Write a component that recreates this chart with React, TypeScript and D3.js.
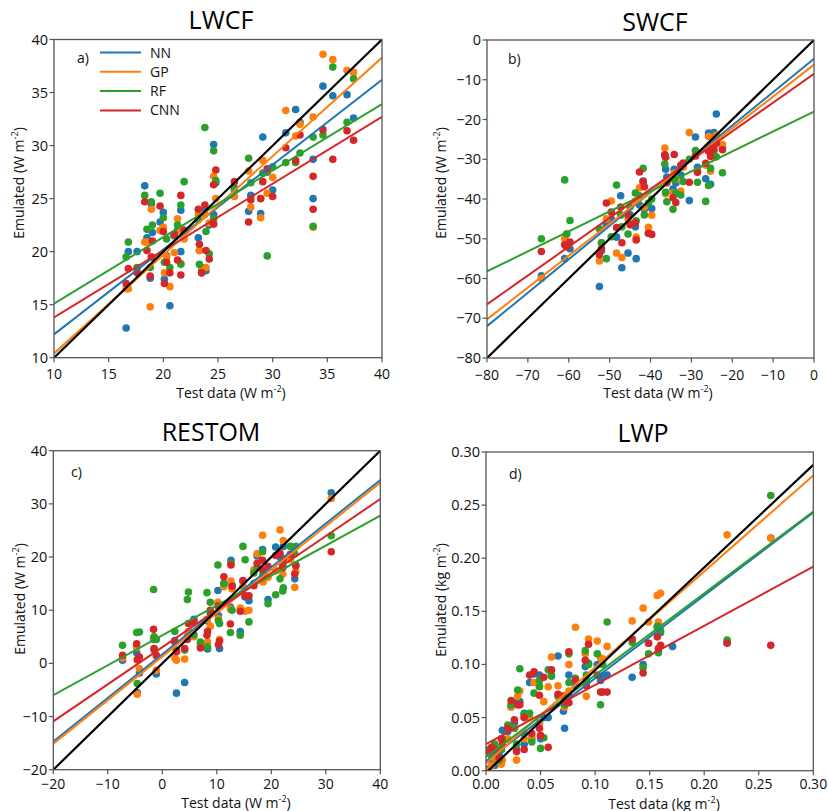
import React from "react";
import * as d3 from "d3";

// ---------- shared ----------
const modelNames = ["NN", "GP", "RF", "CNN"];
const modelColors = ["#1f77b4", "#ff7f0e", "#2ca02c", "#d62728"];

// ---------- a) LWCF ----------
const lwcfTest = [16.6, 16.8, 17.6, 18.3, 18.5, 18.8, 19.0, 18.9, 19.7, 20.0, 20.1, 20.3, 20.6, 21.0, 21.3, 21.6, 21.6, 21.9, 23.2, 23.3, 23.5, 23.8, 23.9, 24.2, 24.6, 24.8, 24.6, 26.5, 27.8, 28.0, 29.1, 28.9, 29.5, 30.0, 31.2, 32.1, 32.5, 33.7, 33.7, 34.6, 35.5, 36.8, 37.4];
const lwcfNN = [12.8, 20.0, 20.0, 26.2, 21.3, 17.5, 21.8, 24.5, 22.8, 23.7, 17.4, 19.6, 14.9, 21.5, 22.0, 23.9, 20.0, 22.0, 21.3, 20.1, 18.5, 24.0, 18.2, 22.5, 30.1, 26.5, 23.5, 26.0, 23.8, 25.3, 30.8, 23.6, 27.5, 25.8, 31.2, 33.4, 32.2, 28.7, 25.0, 35.6, 34.7, 34.8, 32.6];
const lwcfGP = [16.5, 16.5, 18.2, 20.9, 20.9, 14.8, 19.5, 24.0, 22.0, 22.3, 18.0, 19.5, 16.7, 19.9, 23.1, 22.0, 18.9, 21.2, 23.5, 20.1, 18.3, 23.5, 18.5, 22.7, 27.1, 25.0, 22.6, 25.2, 27.6, 24.2, 28.6, 23.2, 25.5, 27.0, 33.3, 30.9, 32.0, 32.7, 22.3, 38.6, 38.1, 37.1, 36.9];
const lwcfRF = [19.5, 20.9, 18.5, 25.3, 22.1, 18.5, 22.5, 24.7, 25.5, 23.2, 19.0, 21.2, 18.5, 21.5, 22.5, 24.4, 18.8, 26.6, 23.0, 18.8, 18.0, 31.7, 21.9, 19.8, 29.5, 26.7, 23.1, 25.8, 28.8, 26.5, 27.4, 25.0, 19.6, 28.0, 28.4, 28.4, 29.3, 30.8, 22.4, 31.0, 37.4, 32.2, 36.3];
const lwcfCNN = [17.0, 18.4, 18.0, 24.7, 20.1, 17.7, 21.0, 19.5, 24.3, 21.9, 17.0, 19.0, 18.0, 21.6, 19.2, 25.3, 17.8, 22.0, 24.0, 20.7, 18.0, 24.4, 20.1, 19.3, 26.3, 27.7, 22.6, 26.6, 22.8, 24.9, 26.6, 25.0, 27.8, 25.2, 29.8, 28.6, 31.0, 27.1, 24.0, 31.5, 28.7, 31.4, 30.5];
const lwcfSlopes = [0.8, 0.93, 0.627, 0.63];
const lwcfIntercepts = [4.2, 1.1, 8.83, 7.5];
const lwcfIdentity = [1, 0];
const lwcfTicks = [10, 15, 20, 25, 30, 35, 40];

// ---------- b) SWCF ----------
const swcfTest = [-66.7, -61.0, -60.5, -59.7, -52.5, -52.0, -50.8, -49.6, -48.3, -47.3, -47.0, -45.5, -45.0, -43.5, -43.7, -42.7, -41.8, -41.5, -40.5, -39.7, -36.5, -36.3, -36.0, -34.5, -34.2, -33.8, -32.6, -32.0, -30.5, -29.0, -28.5, -26.5, -25.8, -25.3, -23.9, -24.5, -22.4];
const swcfNN = [-59.3, -55.0, -51.5, -52.5, -62.0, -53.0, -46.5, -45.0, -49.6, -39.2, -57.3, -53.6, -44.0, -55.0, -47.0, -41.5, -35.5, -42.5, -48.6, -42.4, -29.0, -32.5, -34.5, -37.5, -32.5, -36.0, -34.0, -31.0, -40.4, -24.4, -32.0, -34.9, -23.4, -36.3, -18.6, -23.3, -27.0];
const swcfGP = [-60.0, -50.0, -48.8, -51.0, -55.6, -51.0, -45.0, -40.5, -53.6, -44.0, -54.7, -45.0, -46.0, -49.6, -40.5, -37.2, -36.5, -42.0, -47.1, -44.1, -27.2, -38.7, -36.0, -38.5, -33.5, -35.0, -38.0, -32.0, -23.3, -29.0, -33.0, -31.5, -24.3, -33.0, -24.0, -25.0, -26.3];
const swcfRF = [-50.0, -35.2, -48.8, -45.4, -47.5, -51.0, -55.0, -49.5, -36.5, -44.0, -47.0, -48.8, -42.0, -45.5, -38.5, -39.2, -32.3, -44.0, -41.0, -40.0, -31.2, -38.3, -40.7, -42.6, -35.0, -38.5, -39.0, -35.6, -30.0, -27.8, -35.8, -40.6, -36.6, -32.3, -29.4, -28.0, -33.4];
const swcfCNN = [-53.2, -51.5, -52.0, -50.8, -54.0, -52.5, -41.0, -43.3, -47.2, -42.0, -51.0, -44.0, -46.5, -50.3, -46.0, -33.2, -35.6, -36.9, -48.6, -48.9, -28.9, -29.5, -35.8, -39.7, -28.8, -40.9, -31.5, -31.0, -35.8, -29.2, -33.3, -31.0, -28.0, -29.3, -26.0, -27.5, -27.6];
const swcfSlopes = [0.841, 0.801, 0.5025, 0.725];
const swcfIntercepts = [-4.7, -6.2, -18.0, -8.5];
const swcfIdentity = [1, 0];
const swcfTicks = [-80, -70, -60, -50, -40, -30, -20, -10, 0];

// ---------- c) RESTOM ----------
const restomTest = [-7.3, -4.7, -4.6, -4.2, -1.6, -1.5, -1.1, 2.3, 2.6, 4.1, 4.8, 4.6, 5.8, 7.0, 8.2, 8.3, 8.8, 10.2, 10.3, 10.5, 11.3, 12.5, 12.6, 12.8, 14.3, 14.8, 15.2, 15.9, 16.8, 17.4, 18.4, 18.5, 19.4, 20.8, 21.6, 22.2, 22.1, 23.5, 24.3, 24.5, 31.0];
const restomNN = [0.6, 2.0, -5.5, -1.8, 4.5, 2.5, -2.0, 4.3, -5.6, -3.6, 6.0, 5.0, 8.3, 3.5, 8.0, 2.7, 9.5, 13.7, 9.0, 2.8, 15.0, 10.6, 19.4, 14.7, 6.0, 15.5, 12.5, 11.8, 15.0, 20.2, 21.4, 17.0, 12.0, 21.9, 20.0, 22.0, 18.5, 19.8, 15.9, 18.5, 32.1];
const restomGP = [1.0, 3.0, -5.8, -1.0, 4.8, 2.8, -1.3, 1.0, 0.6, 0.8, 6.0, 5.0, 5.0, 3.2, 8.3, 4.0, 7.0, 11.5, 8.4, 4.5, 14.4, 10.2, 15.5, 14.0, 10.4, 14.5, 9.8, 10.0, 17.6, 20.6, 24.1, 15.3, 16.2, 17.4, 25.1, 23.1, 16.8, 19.5, 14.3, 17.3, 31.0];
const restomRF = [3.4, 5.8, -3.8, 5.9, 13.9, 5.0, 4.5, 6.0, 2.5, 2.5, 13.4, 12.0, 5.4, 4.0, 13.3, 3.1, 11.5, 18.5, 8.0, 7.5, 15.0, 5.8, 18.8, 10.0, 5.3, 22.0, 19.5, 7.8, 17.0, 18.0, 21.0, 16.5, 11.2, 12.9, 15.9, 14.2, 13.6, 22.0, 20.6, 22.0, 24.0];
const restomCNN = [1.5, 3.7, 0.7, 1.2, 6.4, 2.8, 1.5, 4.0, 2.2, 2.8, 7.5, 4.5, 7.8, 2.9, 5.3, 6.0, 10.0, 10.8, 3.5, 4.2, 16.3, 7.4, 18.5, 14.5, 9.8, 15.6, 12.7, 12.7, 14.6, 18.8, 19.4, 17.5, 18.2, 20.3, 20.7, 19.6, 18.0, 20.5, 16.8, 18.3, 21.0];
const restomSlopes = [0.82, 0.818, 0.563, 0.697];
const restomIntercepts = [1.7, 1.27, 5.27, 3.03];
const restomIdentity = [1, 0];
const restomTicks = [-20, -10, 0, 10, 20, 30, 40];

// ---------- d) LWP ----------
const lwpTest = [0.261, 0.221, 0.171, 0.160, 0.157, 0.158, 0.149, 0.144, 0.134, 0.111, 0.107, 0.102, 0.105, 0.094, 0.091, 0.092, 0.082, 0.076, 0.076, 0.072, 0.071, 0.066, 0.060, 0.057, 0.053, 0.049, 0.049, 0.050, 0.044, 0.040, 0.042, 0.035, 0.035, 0.031, 0.029, 0.023, 0.026, 0.020, 0.015, 0.014, 0.008, 0.005, 0.003, 0.028, 0.012];
const lwpNN = [0.219, 0.121, 0.117, 0.130, 0.135, 0.112, 0.120, 0.100, 0.088, 0.090, 0.089, 0.100, 0.085, 0.101, 0.098, 0.085, 0.080, 0.090, 0.070, 0.040, 0.056, 0.108, 0.090, 0.050, 0.050, 0.090, 0.045, 0.030, 0.091, 0.083, 0.030, 0.054, 0.025, 0.065, 0.065, 0.060, 0.045, 0.037, 0.038, 0.020, 0.005, 0.010, 0.002, 0.020, 0.015];
const lwpGP = [0.219, 0.222, null, 0.167, 0.165, 0.140, 0.140, 0.153, 0.141, 0.117, 0.105, 0.122, 0.106, 0.124, 0.110, 0.070, 0.135, 0.100, 0.075, 0.060, 0.070, 0.080, 0.107, 0.079, 0.065, 0.080, 0.045, 0.033, 0.083, 0.050, 0.031, 0.050, 0.030, 0.075, 0.070, 0.060, 0.040, 0.030, 0.010, 0.006, 0.012, 0.005, 0.000, 0.010, 0.020];
const lwpRF = [0.259, 0.123, null, 0.132, 0.136, 0.111, 0.110, 0.097, 0.121, 0.140, 0.100, 0.110, 0.062, 0.100, 0.113, 0.090, 0.087, 0.110, 0.083, 0.062, 0.070, 0.070, 0.089, 0.095, 0.031, 0.085, 0.079, 0.021, 0.073, 0.054, 0.027, 0.053, 0.035, 0.096, 0.076, 0.062, 0.040, 0.043, 0.030, 0.020, 0.025, 0.015, 0.020, 0.025, 0.010];
const lwpCNN = [0.118, 0.120, null, 0.118, 0.126, 0.115, 0.120, 0.092, 0.124, 0.074, 0.074, 0.090, 0.074, 0.119, 0.104, 0.080, 0.085, 0.112, 0.064, 0.065, 0.070, 0.072, 0.095, 0.022, 0.088, 0.071, 0.040, 0.033, 0.093, 0.090, 0.035, 0.050, 0.020, 0.062, 0.062, 0.066, 0.048, 0.040, 0.025, 0.030, 0.020, 0.022, 0.018, 0.018, 0.012];
const lwpSlopes = [0.78, 0.903, 0.77, 0.557];
const lwpIntercepts = [0.009, 0.007, 0.013, 0.025];
const lwpIdentity = [0.966, -0.0019];
const lwpTicks = [0, 0.05, 0.1, 0.15, 0.2, 0.25, 0.3];

// ---------- layout ----------
const FONT = "'Open Sans', 'DejaVu Sans', sans-serif";
const SPINE = "#555";

type PanelCfg = {
  title: string; letter: string; unit: string;
  test: number[]; series: (number | null)[][];
  slopes: number[]; intercepts: number[]; identity: number[];
  ticks: number[]; fmt: (v: number) => string;
  box: [number, number, number, number]; xTickGap: number;
  titlePos: [number, number]; letterPos: [number, number];
  xLabelPos: [number, number]; yLabelPos: [number, number];
  legend?: boolean; clipId: string;
};

function Label({ x, y, text, unit, rotate }: { x: number; y: number; text: string; unit: string; rotate?: boolean }) {
  return (
    <text x={x} y={y} textAnchor="middle" fontSize={14} fontFamily={FONT} fill="#111"
      transform={rotate ? `rotate(-90 ${x} ${y})` : undefined}>
      {text} ({unit} m<tspan fontSize={9} dy={-6}>-2</tspan><tspan dy={6}>)</tspan>
    </text>
  );
}

function Panel(p: PanelCfg) {
  const [x0, y0, x1, y1] = p.box;
  const dom = [p.ticks[0], p.ticks[p.ticks.length - 1]];
  const xs = d3.scaleLinear().domain(dom).range([x0, x1]);
  const ys = d3.scaleLinear().domain(dom).range([y1, y0]);
  const lineGen = d3.line<[number, number]>().x((d) => xs(d[0])).y((d) => ys(d[1]));
  const fitPts = (m: number, b: number): [number, number][] => [[dom[0], m * dom[0] + b], [dom[1], m * dom[1] + b]];
  return (
    <g>
      <defs>
        <clipPath id={p.clipId}><rect x={x0} y={y0} width={x1 - x0} height={y1 - y0} /></clipPath>
      </defs>
      <g clipPath={`url(#${p.clipId})`}>
        {p.series.map((s, si) =>
          p.test.map((t, i) =>
            s[i] == null ? null : (
              <circle key={`${si}-${i}`} cx={xs(t)} cy={ys(s[i] as number)} r={3.8} fill={modelColors[si]} />
            )
          )
        )}
        {p.slopes.map((m, si) => (
          <path key={`f${si}`} d={lineGen(fitPts(m, p.intercepts[si])) || ""} stroke={modelColors[si]} strokeWidth={2} fill="none" />
        ))}
        <path d={lineGen(fitPts(p.identity[0], p.identity[1])) || ""} stroke="#000" strokeWidth={2.2} fill="none" />
      </g>
      <rect x={x0} y={y0} width={x1 - x0} height={y1 - y0} fill="none" stroke={SPINE} strokeWidth={1.3} />
      {p.ticks.map((t) => (
        <g key={`xt${t}`}>
          <line x1={xs(t)} x2={xs(t)} y1={y1} y2={y1 + 4.5} stroke={SPINE} strokeWidth={1.2} />
          <text x={xs(t)} y={y1 + p.xTickGap} textAnchor="middle" fontSize={14} fontFamily={FONT} fill="#111">{p.fmt(t)}</text>
        </g>
      ))}
      {p.ticks.map((t) => (
        <g key={`yt${t}`}>
          <line x1={x0 - 4.5} x2={x0} y1={ys(t)} y2={ys(t)} stroke={SPINE} strokeWidth={1.2} />
          <text x={x0 - 6} y={ys(t) + 5} textAnchor="end" fontSize={14.5} fontFamily={FONT} fill="#111">{p.fmt(t)}</text>
        </g>
      ))}
      <text x={p.titlePos[0]} y={p.titlePos[1]} textAnchor="middle" fontSize={25} fontFamily={FONT} fill="#000">{p.title}</text>
      <text x={p.letterPos[0]} y={p.letterPos[1]} fontSize={14} fontFamily={FONT} fill="#111">{p.letter}</text>
      <Label x={p.xLabelPos[0]} y={p.xLabelPos[1]} text="Test data" unit={p.unit} />
      <Label x={p.yLabelPos[0]} y={p.yLabelPos[1]} text="Emulated" unit={p.unit} rotate />
      {p.legend &&
        modelNames.map((n, i) => (
          <g key={n}>
            <line x1={100} x2={141} y1={52.5 + i * 19.3} y2={52.5 + i * 19.3} stroke={modelColors[i]} strokeWidth={2} />
            <text x={150} y={57.5 + i * 19.3} fontSize={14} fontFamily={FONT} fill="#111">{n}</text>
          </g>
        ))}
    </g>
  );
}

const intFmt = (v: number) => d3.format("d")(v);
const lwpFmt = (v: number) => d3.format(".2f")(v);

export default function App() {
  return (
    <svg width={828} height={811} style={{ display: "block", position: "absolute", left: 0, top: 0, background: "#fff" }}>
      <rect width={828} height={811} fill="#fff" />
      <Panel title="LWCF" letter="a)" unit="W" test={lwcfTest} series={[lwcfNN, lwcfGP, lwcfRF, lwcfCNN]}
        slopes={lwcfSlopes} intercepts={lwcfIntercepts} identity={lwcfIdentity} ticks={lwcfTicks} fmt={intFmt}
        box={[54, 39.5, 382, 357.7]} xTickGap={21.5} titlePos={[221, 29]} letterPos={[77, 63]} xLabelPos={[231, 398]} yLabelPos={[24, 183]}
        legend clipId="cpa" />
      <Panel title="SWCF" letter="b)" unit="W" test={swcfTest} series={[swcfNN, swcfGP, swcfRF, swcfCNN]}
        slopes={swcfSlopes} intercepts={swcfIntercepts} identity={swcfIdentity} ticks={swcfTicks} fmt={intFmt}
        box={[487, 40, 814, 358]} xTickGap={21.5} titlePos={[655, 31]} letterPos={[508, 64]} xLabelPos={[658, 398]} yLabelPos={[446, 183]}
        clipId="cpb" />
      <Panel title="RESTOM" letter="c)" unit="W" test={restomTest} series={[restomNN, restomGP, restomRF, restomCNN]}
        slopes={restomSlopes} intercepts={restomIntercepts} identity={restomIdentity} ticks={restomTicks} fmt={intFmt}
        box={[53.3, 450.7, 380.3, 769.7]} xTickGap={19} titlePos={[211, 441]} letterPos={[71, 477]} xLabelPos={[236, 808]} yLabelPos={[25, 599]}
        clipId="cpc" />
      <Panel title="LWP" letter="d)" unit="kg" test={lwpTest} series={[lwpNN, lwpGP, lwpRF, lwpCNN]}
        slopes={lwpSlopes} intercepts={lwpIntercepts} identity={lwpIdentity} ticks={lwpTicks} fmt={lwpFmt}
        box={[486, 452, 813.3, 770.7]} xTickGap={18.5} titlePos={[643, 442]} letterPos={[509, 479]} xLabelPos={[664, 808.5]} yLabelPos={[446, 600]}
        clipId="cpd" />
    </svg>
  );
}
